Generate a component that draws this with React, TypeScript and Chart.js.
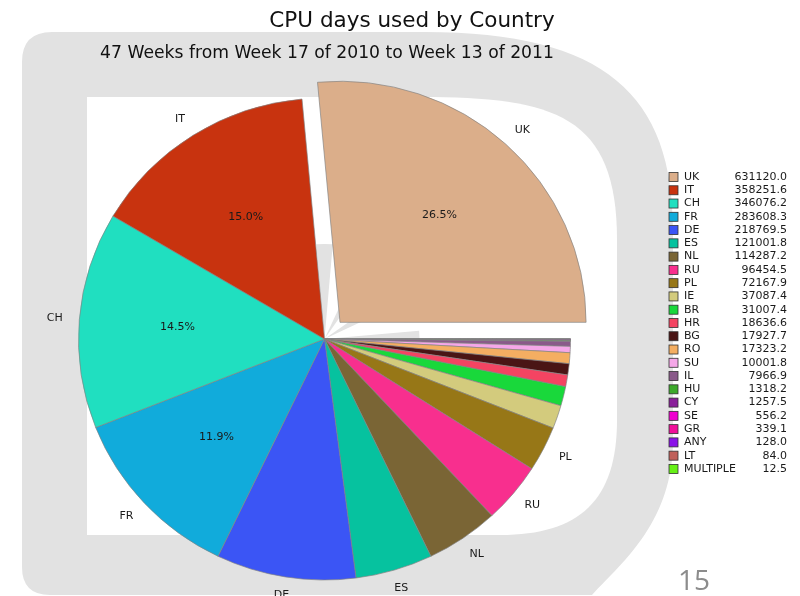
import React, { useEffect, useRef } from "react";
import { Chart, registerables } from "chart.js";

Chart.register(...registerables);

const TITLE = "CPU days used by Country";
const SUBTITLE = "47 Weeks from Week 17 of 2010 to Week 13 of 2011";
const PAGE_NUMBER = "15";

const countries = [
  "UK", "IT", "CH", "FR", "DE", "ES", "NL", "RU", "PL", "IE", "BR", "HR",
  "BG", "RO", "SU", "IL", "HU", "CY", "SE", "GR", "ANY", "LT", "MULTIPLE",
];
const cpuDays = [
  631120.0, 358251.6, 346076.2, 283608.3, 218769.5, 121001.8, 114287.2,
  96454.5, 72167.9, 37087.4, 31007.4, 18636.6, 17927.7, 17323.2, 10001.8,
  7966.9, 1318.2, 1257.5, 556.2, 339.1, 128.0, 84.0, 12.5,
];
const sliceColors = [
  "#dbae8a", "#c8330f", "#20dfc0", "#11abdb", "#3b55f5", "#06c29f", "#7a6535",
  "#f82f8e", "#977717", "#d3cb7d", "#19d83b", "#f44462", "#4a1515", "#f4ae62",
  "#f5a7e8", "#8a5a8a", "#3daa2b", "#8a1f9a", "#f000d0", "#f0109a", "#8a12e8",
  "#c0605a", "#66f016",
];
// exploded slices (UK)
const explodedCountries = ["UK"];
// slices that carry an outside name label
const labelledCountries = ["UK", "IT", "CH", "FR", "DE", "ES", "NL", "RU", "PL"];
// minimum share (%) for an inside percentage label
const PCT_LABEL_MIN = 10;

const W = 800;
const H = 596;
const GREY = "#e2e2e2";
const Y_SQUISH = 241 / 246;
const EXPLODE_PX = 23;

// drawing order: Chart.js goes clockwise, matplotlib counter-clockwise -> reverse
const revLabels = countries.slice().reverse();
const revData = cpuDays.slice().reverse();
const revColors = sliceColors.slice().reverse();
const revOffsets = revLabels.map((c) => (explodedCountries.includes(c) ? EXPLODE_PX : 0));
const total = cpuDays.reduce((a, b) => a + b, 0);

function backgroundShape(ctx: CanvasRenderingContext2D) {
  ctx.save();
  ctx.fillStyle = GREY;
  ctx.beginPath();
  ctx.moveTo(52, 32);
  ctx.lineTo(425, 32);
  ctx.bezierCurveTo(605, 32, 673, 95, 673, 230);
  ctx.lineTo(673, 440);
  ctx.bezierCurveTo(673, 520, 625, 560, 592, 595);
  ctx.lineTo(50, 595);
  ctx.quadraticCurveTo(22, 595, 22, 567);
  ctx.lineTo(22, 62);
  ctx.quadraticCurveTo(22, 32, 52, 32);
  ctx.closePath();
  ctx.fill();

  ctx.fillStyle = "#ffffff";
  ctx.beginPath();
  ctx.moveTo(87, 97);
  ctx.lineTo(420, 97);
  ctx.bezierCurveTo(555, 97, 617, 115, 617, 240);
  ctx.lineTo(617, 420);
  ctx.bezierCurveTo(617, 500, 580, 535, 500, 535);
  ctx.lineTo(87, 535);
  ctx.closePath();
  ctx.fill();
  ctx.restore();
}

const bgPlugin = {
  id: "slideBackground",
  beforeDraw(chart: any) {
    const ctx = chart.ctx as CanvasRenderingContext2D;
    backgroundShape(ctx);
    // faint sunburst behind the pie centre
    const a0 = chart.getDatasetMeta(0).data[0];
    if (a0) {
      const cx = a0.x;
      const cy = a0.y;
      ctx.save();
      ctx.fillStyle = GREY;
      for (let k = 0; k < 24; k += 2) {
        const s = ((k * 15 - 5) * Math.PI) / 180;
        const e = ((k * 15 + 5) * Math.PI) / 180;
        ctx.beginPath();
        ctx.moveTo(cx, cy);
        ctx.arc(cx, cy, 95, s, e);
        ctx.closePath();
        ctx.fill();
      }
      ctx.restore();
    }
  },
  beforeDatasetsDraw(chart: any) {
    const ctx = chart.ctx as CanvasRenderingContext2D;
    const a0 = chart.getDatasetMeta(0).data[0];
    ctx.save();
    if (a0) {
      ctx.translate(a0.x, a0.y);
      ctx.scale(1, Y_SQUISH);
      ctx.translate(-a0.x, -a0.y);
    }
  },
  afterDatasetsDraw(chart: any) {
    chart.ctx.restore();
  },
  afterDraw(chart: any) {
    const ctx = chart.ctx as CanvasRenderingContext2D;
    const meta = chart.getDatasetMeta(0);
    ctx.save();
    ctx.textAlign = "center";
    ctx.textBaseline = "middle";
    ctx.font = "11px 'DejaVu Sans'";
    ctx.fillStyle = "#1a1a1a";
    meta.data.forEach((arc: any, i: number) => {
      const name = revLabels[i];
      const p = arc.getProps(["x", "y", "startAngle", "endAngle", "outerRadius"], true);
      const mid = (p.startAngle + p.endAngle) / 2;
      const off = revOffsets[i];
      const cx = p.x + Math.cos(mid) * off;
      const cy = p.y + Math.sin(mid) * off * Y_SQUISH;
      const r = p.outerRadius;
      if (labelledCountries.includes(name)) {
        ctx.fillText(
          name,
          cx + Math.cos(mid) * r * 1.1,
          cy + Math.sin(mid) * r * 1.1 * 0.96
        );
      }
      const pct = (revData[i] / total) * 100;
      if (pct >= PCT_LABEL_MIN) {
        ctx.fillText(
          pct.toFixed(1) + "%",
          cx + Math.cos(mid) * r * 0.6,
          cy + Math.sin(mid) * r * 0.6 * Y_SQUISH
        );
      }
    });

    // titles
    ctx.fillStyle = "#111";
    ctx.font = "21.5px 'DejaVu Sans'";
    ctx.fillText(TITLE, 412, 21);
    ctx.font = "17.2px 'DejaVu Sans'";
    ctx.fillText(SUBTITLE, 327, 54);

    // legend with values
    ctx.font = "11px 'DejaVu Sans'";
    const lx = 669;
    const ly = 177;
    const step = 13.27;
    countries.forEach((c, i) => {
      const y = ly + i * step;
      ctx.fillStyle = sliceColors[i];
      ctx.fillRect(lx, y - 4.5, 9, 9);
      ctx.strokeStyle = "#333";
      ctx.lineWidth = 0.8;
      ctx.strokeRect(lx, y - 4.5, 9, 9);
      ctx.fillStyle = "#1a1a1a";
      ctx.textAlign = "left";
      ctx.fillText(c, 684, y);
      ctx.textAlign = "right";
      ctx.fillText(cpuDays[i].toFixed(1), 787, y);
    });

    // slide page number
    ctx.textAlign = "center";
    ctx.fillStyle = "#8c8c8c";
    ctx.font = "28px 'Open Sans'";
    ctx.fillText(PAGE_NUMBER, 694, 582);
    ctx.restore();
  },
};

export default function App() {
  const ref = useRef<HTMLCanvasElement | null>(null);
  useEffect(() => {
    if (!ref.current) return;
    const chart = new Chart(ref.current, {
      type: "pie",
      data: {
        labels: revLabels,
        datasets: [
          {
            data: revData,
            backgroundColor: revColors,
            borderColor: "rgba(130,130,130,0.85)",
            borderWidth: 0.8,
            // Chart.js translates an arc by offset / 4
            offset: revOffsets.map((o) => o * 4),
            clip: false,
          } as any,
        ],
      },
      options: {
        animation: false,
        responsive: false,
        maintainAspectRatio: false,
        rotation: 90,
        radius: 246,
        layout: { padding: { left: 80, right: 231, top: 95, bottom: 13 } },
        events: [],
        plugins: {
          legend: { display: false },
          title: { display: false },
          tooltip: { enabled: false },
        },
      } as any,
      plugins: [bgPlugin],
    });
    return () => chart.destroy();
  }, []);
  return (
    <div style={{ position: "fixed", left: 0, top: 0, width: W, height: H, background: "#fff" }}>
      <canvas ref={ref} width={W} height={H} style={{ width: W, height: H, display: "block" }} />
    </div>
  );
}
